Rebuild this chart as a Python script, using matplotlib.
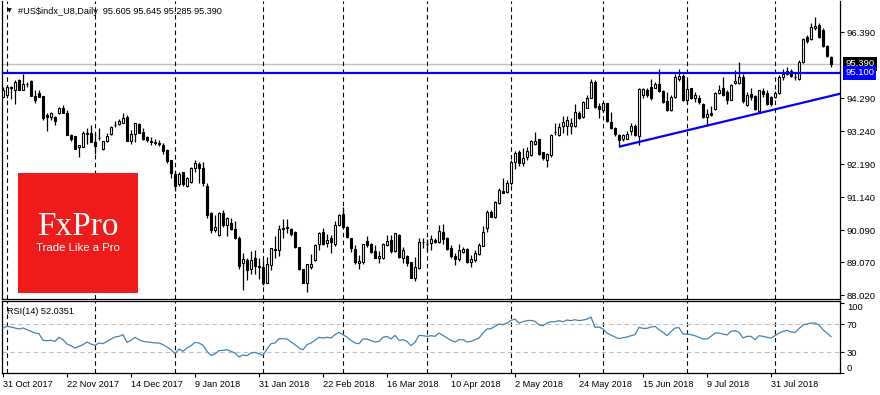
import numpy as np
import pandas as pd
import matplotlib
matplotlib.use("Agg")
import matplotlib.pyplot as plt
import matplotlib.transforms as mtransforms
from matplotlib.patches import Rectangle

plt.rcParams['font.family'] = ['Liberation Sans', 'DejaVu Sans']

# daily bars of #US$indx_U8, 31 Oct 2017 - 21 Aug 2018
holidays = ['2017-12-25', '2018-01-01', '2018-03-30']

open_ = [
    94.32, 94.41, 94.64, 94.55, 94.87, 94.57, 94.75, 94.84, 94.36, 94.47,
    94.36, 93.76, 93.68, 93.68, 93.81, 93.97, 93.83, 93.12, 93.09, 92.75,
    92.75, 93.15, 93.19, 92.91, 93.04, 92.69, 92.93, 93.14, 93.43, 93.46,
    93.51, 93.70, 92.93, 93.17, 93.47, 93.22, 93.05, 92.93, 92.86, 92.86,
    92.80, 92.64, 92.32, 91.88, 91.55, 91.94, 91.51, 91.63, 92.06, 92.20,
    92.06, 91.50, 90.65, 90.09, 89.93, 90.65, 90.27, 90.31, 90.12, 89.83,
    89.06, 89.14, 88.87, 89.19, 88.94, 88.93, 88.42, 88.98, 89.46, 89.46,
    90.15, 90.20, 90.13, 90.04, 89.56, 88.85, 88.42, 88.93, 89.14, 89.64,
    90.02, 89.67, 89.85, 89.64, 90.27, 90.62, 90.20, 89.85, 89.49, 89.06,
    89.09, 89.74, 89.64, 89.43, 89.19, 89.19, 89.62, 89.78, 89.43, 89.93,
    89.22, 89.27, 89.09, 88.58, 88.90, 89.70, 89.66, 89.69, 89.78, 89.72,
    90.04, 89.83, 89.51, 89.26, 89.17, 89.40, 89.49, 89.09, 89.14, 89.32,
    89.59, 90.15, 90.66, 90.50, 90.97, 91.34, 91.31, 91.58, 92.25, 92.59,
    92.24, 92.43, 92.48, 92.85, 92.98, 92.57, 92.34, 92.48, 93.22, 93.12,
    93.42, 93.42, 93.42, 93.42, 93.81, 93.68, 93.99, 94.31, 94.82, 94.04,
    93.92, 94.13, 93.54, 93.35, 93.12, 92.98, 93.01, 93.25, 93.41, 93.10,
    94.41, 94.55, 94.66, 94.63, 94.76, 94.52, 94.20, 93.92, 94.34, 94.92,
    95.01, 94.23, 94.61, 94.29, 94.29, 94.10, 93.68, 93.81, 93.94, 94.47,
    94.61, 94.50, 94.25, 94.79, 94.79, 94.98, 94.07, 94.42, 94.36, 93.89,
    94.53, 94.45, 94.32, 94.32, 94.45, 94.98, 95.08, 95.17, 94.97, 94.92,
    95.45, 96.25, 96.17, 96.52, 96.62, 96.48, 95.95, 95.605]

high = [
    94.66, 94.71, 94.68, 94.89, 94.92, 95.08, 94.82, 94.87, 94.57, 94.55,
    94.36, 93.81, 93.86, 93.72, 94.02, 94.08, 93.92, 93.15, 93.09, 92.82,
    93.26, 93.33, 93.44, 93.19, 93.33, 92.93, 93.19, 93.41, 93.58, 93.62,
    93.83, 93.76, 93.28, 93.51, 93.49, 93.33, 93.10, 93.07, 92.98, 92.96,
    92.86, 92.68, 92.34, 91.98, 91.95, 91.96, 91.77, 92.11, 92.34, 92.27,
    92.27, 91.61, 90.68, 90.57, 90.68, 90.75, 90.52, 90.47, 90.39, 89.90,
    89.37, 89.19, 89.44, 89.46, 89.19, 89.14, 89.24, 89.54, 89.90, 90.25,
    90.44, 90.44, 90.15, 90.06, 89.56, 88.85, 89.03, 89.32, 89.64, 90.02,
    90.15, 89.96, 89.93, 90.38, 90.62, 90.84, 90.23, 89.85, 89.62, 89.30,
    89.64, 89.91, 89.67, 89.62, 89.43, 89.67, 89.93, 89.93, 90.01, 89.96,
    89.56, 89.30, 89.09, 89.25, 89.83, 89.83, 89.80, 89.94, 89.83, 90.25,
    90.29, 89.88, 89.62, 89.35, 89.65, 89.56, 89.51, 89.30, 89.46, 89.67,
    90.22, 90.73, 90.73, 91.02, 91.44, 91.76, 91.69, 92.32, 92.62, 92.64,
    92.72, 92.75, 92.96, 93.23, 93.01, 92.59, 92.54, 93.14, 93.49, 93.49,
    93.72, 93.72, 93.65, 94.10, 93.88, 94.20, 94.41, 94.92, 94.87, 94.13,
    94.18, 94.15, 93.86, 93.38, 93.14, 93.14, 93.25, 93.49, 93.46, 94.61,
    94.63, 94.61, 94.92, 94.82, 95.22, 94.55, 94.50, 94.39, 95.08, 95.24,
    95.05, 94.87, 94.63, 94.50, 94.41, 94.13, 93.94, 94.04, 94.50, 94.71,
    94.98, 94.55, 94.74, 95.19, 95.45, 95.08, 94.50, 94.61, 94.39, 94.57,
    94.61, 94.55, 94.36, 94.53, 95.03, 95.24, 95.30, 95.21, 95.10, 95.51,
    96.20, 96.30, 96.70, 96.89, 96.68, 96.52, 95.99, 95.645]

low = [
    94.32, 94.29, 94.26, 94.10, 94.57, 94.57, 94.66, 94.37, 94.15, 94.32,
    93.60, 93.26, 93.60, 93.44, 93.79, 93.81, 93.12, 92.94, 92.69, 92.41,
    92.75, 92.85, 92.91, 92.51, 92.96, 92.66, 92.91, 93.12, 93.38, 93.44,
    93.49, 92.93, 92.85, 92.91, 93.19, 92.96, 92.90, 92.82, 92.82, 92.77,
    92.52, 92.24, 91.74, 91.35, 91.51, 91.50, 91.47, 91.58, 91.95, 91.60,
    91.51, 90.49, 90.01, 90.04, 89.90, 90.20, 89.90, 90.09, 89.80, 88.87,
    88.18, 88.50, 88.71, 88.71, 88.55, 88.34, 88.40, 88.82, 89.19, 89.27,
    89.83, 89.99, 89.91, 89.53, 88.82, 88.42, 88.11, 88.85, 89.11, 89.46,
    89.62, 89.56, 89.38, 89.60, 90.23, 90.15, 89.83, 89.40, 89.03, 88.87,
    89.03, 89.56, 89.38, 89.19, 89.06, 89.17, 89.60, 89.38, 89.40, 89.22,
    89.05, 88.95, 88.56, 88.47, 88.85, 89.53, 89.44, 89.46, 89.67, 89.67,
    89.65, 89.46, 89.19, 88.98, 89.12, 89.35, 89.05, 88.91, 89.09, 89.30,
    89.58, 90.04, 90.50, 90.49, 90.94, 91.26, 91.26, 91.53, 92.03, 92.13,
    92.13, 92.32, 92.45, 92.80, 92.48, 92.32, 92.09, 92.41, 93.12, 93.09,
    93.19, 93.12, 93.17, 93.38, 93.63, 93.65, 93.97, 94.29, 93.97, 93.67,
    93.86, 93.54, 93.31, 93.10, 92.75, 92.93, 92.99, 93.12, 93.10, 92.82,
    94.29, 94.34, 94.23, 94.61, 94.50, 94.13, 93.88, 93.88, 94.31, 94.84,
    94.20, 94.10, 94.27, 94.18, 94.10, 93.65, 93.41, 93.72, 93.92, 94.42,
    94.36, 94.11, 94.23, 94.76, 94.76, 94.13, 94.04, 94.25, 93.92, 93.86,
    94.32, 94.07, 94.04, 94.29, 94.42, 94.87, 95.03, 94.96, 94.87, 94.87,
    95.42, 96.04, 96.14, 96.48, 96.20, 95.93, 95.61, 95.285]

close = [
    94.55, 94.66, 94.63, 94.80, 94.57, 94.76, 94.74, 94.37, 94.25, 94.34,
    93.67, 93.68, 93.83, 93.58, 93.97, 93.83, 93.12, 92.99, 92.69, 92.82,
    93.19, 93.19, 92.91, 92.77, 93.03, 92.93, 93.09, 93.38, 93.44, 93.57,
    93.65, 92.93, 93.15, 93.49, 93.19, 92.99, 92.96, 92.90, 92.91, 92.85,
    92.62, 92.30, 91.92, 91.51, 91.88, 91.55, 91.74, 92.06, 92.22, 92.06,
    91.60, 90.59, 90.09, 90.18, 90.65, 90.25, 90.47, 90.12, 89.83, 88.95,
    89.16, 88.82, 89.14, 88.95, 88.93, 88.42, 89.00, 89.54, 89.49, 90.12,
    90.12, 90.15, 89.96, 89.56, 88.85, 88.42, 89.00, 89.03, 89.62, 89.99,
    89.64, 89.78, 89.72, 90.27, 90.57, 90.18, 89.88, 89.53, 89.09, 89.11,
    89.64, 89.62, 89.40, 89.21, 89.27, 89.64, 89.74, 89.43, 89.99, 89.25,
    89.46, 89.06, 88.58, 88.93, 89.70, 89.71, 89.65, 89.80, 89.72, 90.07,
    89.80, 89.48, 89.26, 89.17, 89.46, 89.48, 89.09, 89.17, 89.35, 89.62,
    90.02, 90.66, 90.52, 90.99, 91.37, 91.29, 91.61, 92.25, 92.54, 92.24,
    92.38, 92.61, 92.93, 92.93, 92.51, 92.40, 92.51, 93.12, 93.23, 93.39,
    93.54, 93.60, 93.49, 93.86, 93.67, 94.16, 94.31, 94.80, 94.00, 93.94,
    94.15, 93.57, 93.35, 93.14, 92.96, 93.12, 93.15, 93.41, 93.12, 94.58,
    94.58, 94.39, 94.29, 94.76, 94.52, 94.18, 93.92, 94.34, 94.98, 95.01,
    94.23, 94.58, 94.31, 94.41, 94.16, 93.70, 93.78, 93.75, 94.45, 94.55,
    94.39, 94.23, 94.71, 94.84, 94.96, 94.21, 94.39, 94.34, 93.94, 94.55,
    94.42, 94.11, 94.11, 94.45, 94.98, 95.08, 95.17, 95.00, 94.96, 95.45,
    96.17, 96.12, 96.55, 96.59, 96.23, 95.95, 95.63, 95.39]

rsi = [
    64.3, 66.7, 65.7, 64.3, 62.9, 64.3, 61.9, 59.5, 57.1, 56.2,
    46.7, 46.2, 46.7, 45.2, 51.0, 47.6, 41.4, 39.0, 35.7, 38.1,
    40.5, 44.3, 41.4, 39.5, 42.9, 41.9, 45.2, 48.6, 51.4, 52.4,
    54.8, 43.8, 46.7, 51.0, 47.6, 45.2, 44.3, 43.8, 42.9, 42.9,
    40.5, 37.1, 33.3, 27.6, 34.3, 31.0, 35.7, 39.0, 43.8, 42.9,
    39.5, 31.0, 25.2, 27.1, 31.9, 32.4, 33.3, 31.0, 28.6, 22.9,
    25.7, 24.8, 28.6, 29.5, 27.6, 25.2, 34.3, 41.9, 42.9, 49.0,
    49.0, 48.6, 44.3, 40.5, 35.7, 33.3, 40.5, 42.9, 46.7, 51.0,
    50.0, 51.0, 50.0, 54.8, 58.1, 54.8, 51.4, 46.7, 42.9, 41.9,
    48.6, 48.6, 46.2, 44.3, 45.2, 51.0, 52.4, 48.6, 53.8, 46.7,
    47.6, 45.2, 39.0, 43.8, 53.8, 53.3, 52.4, 53.3, 52.4, 57.1,
    53.8, 50.0, 46.7, 44.3, 47.6, 47.6, 44.3, 45.2, 47.6, 50.0,
    57.1, 62.9, 63.3, 66.7, 70.0, 69.0, 71.4, 75.2, 77.1, 71.4,
    73.3, 74.8, 75.2, 73.8, 68.6, 67.6, 71.4, 73.3, 73.3, 74.8,
    73.3, 75.7, 74.8, 76.2, 74.8, 75.7, 77.1, 80.0, 65.2, 65.7,
    62.9, 57.1, 54.3, 51.4, 49.0, 50.5, 51.4, 53.3, 54.8, 65.2,
    63.8, 63.8, 65.7, 66.7, 61.9, 58.1, 53.3, 59.0, 64.3, 64.8,
    55.7, 55.7, 54.8, 53.3, 51.0, 48.6, 48.6, 52.4, 57.1, 57.1,
    55.7, 54.3, 59.5, 60.5, 58.1, 50.0, 52.4, 52.4, 47.6, 53.3,
    52.4, 51.0, 50.0, 53.3, 57.1, 59.5, 61.0, 58.6, 58.1, 63.3,
    68.6, 70.0, 71.4, 71.4, 68.6, 61.9, 57.1, 52.0]

resistance = 95.10
last_price = 95.39
trend_x = [154, 193]
trend_y = [92.75, 93.94]
price_ticks = [96.39, 94.29, 93.24, 92.19, 91.14, 90.09, 89.07, 88.02]
rsi_ticks = [100, 70, 30, 0]
title = '#US$indx_U8,Daily  95.605 95.645 95.285 95.390'
rsi_title = 'RSI(14) 52.0351'

dates = pd.bdate_range('2017-10-31', '2018-08-21')
dates = dates[~dates.isin(pd.to_datetime(holidays))]

W, H = 880, 395
fig = plt.figure(figsize=(W / 100, H / 100), dpi=100)


def px_axes(x0, y0, x1, y1):
    return fig.add_axes([x0 / W, 1 - y1 / H, (x1 - x0) / W, (y1 - y0) / H])


ax = px_axes(2, 1, 840, 299)
ax_rsi = px_axes(2, 301, 840, 373)

x = np.arange(len(close))
o = np.array(open_)
c = np.array(close)
up = c >= o
bottom = np.minimum(o, c)
height = np.abs(c - o)

# candles
ax.vlines(x, low, high, color='black', lw=0.9, zorder=2)
ax.bar(x[up], height[up], bottom=bottom[up], width=0.55, facecolor='white',
       edgecolor='black', lw=0.8, zorder=3)
ax.bar(x[~up], height[~up], bottom=bottom[~up], width=0.55, facecolor='black',
       edgecolor='black', lw=0.8, zorder=3)

# levels
ax.axhline(last_price, color='#c0c0c0', lw=1, zorder=1)
ax.axhline(resistance, color='#0000ff', lw=1.6, zorder=4)
slope = (trend_y[1] - trend_y[0]) / (trend_x[1] - trend_x[0])
x_end = 215
ax.plot([trend_x[0], x_end], [trend_y[0], trend_y[0] + slope * (x_end - trend_x[0])],
        color='#0000ff', lw=1.6, zorder=4, solid_capstyle='butt')

# month separators
month_starts = [i for i in range(1, len(dates)) if dates[i].month != dates[i - 1].month]
for a in (ax, ax_rsi):
    for m in month_starts:
        a.axvline(m, color='black', lw=0.8, ls=(0, (4, 3)), zorder=1)

ax.set_xlim(-0.25, 209.25)
ax.set_ylim(87.90, 97.39)
ax.set_xticks([])
ax.yaxis.tick_right()
ax.set_yticks(price_ticks)
ax.set_yticklabels([f'{v:.3f}' for v in price_ticks], fontsize=6.8)
ax.tick_params(axis='y', direction='out', length=3, width=0.8, pad=2)
ax.spines['top'].set_visible(False)
for s in ('left', 'right', 'bottom'):
    ax.spines[s].set_linewidth(0.9)

trans = mtransforms.blended_transform_factory(ax.transAxes, ax.transData)
ax.text(1.006, last_price, f'{last_price:.3f}', transform=trans, color='white',
        fontsize=6.8, va='center', ha='left', clip_on=False, zorder=6,
        bbox=dict(boxstyle='square,pad=0.25', fc='black', ec='none'))
ax.text(1.006, resistance, f'{resistance:.3f}', transform=trans, color='white',
        fontsize=6.8, va='center', ha='left', clip_on=False, zorder=7,
        bbox=dict(boxstyle='square,pad=0.25', fc='#0000ff', ec='none'))

# RSI panel
ax_rsi.plot(x, rsi, color='#4682b4', lw=0.9, zorder=3)
ax_rsi.axhline(70, color='#c0c0c0', lw=0.8, ls=(0, (4, 3)), zorder=1)
ax_rsi.axhline(30, color='#c0c0c0', lw=0.8, ls=(0, (4, 3)), zorder=1)
ax_rsi.set_xlim(-0.25, 209.25)
ax_rsi.set_ylim(0, 102.9)
ax_rsi.yaxis.tick_right()
ax_rsi.set_yticks(rsi_ticks)
ax_rsi.set_yticklabels([str(v) for v in rsi_ticks], fontsize=6.8)
labels = ax_rsi.get_yticklabels()
labels[0].set_va('top')
labels[-1].set_va('bottom')
ax_rsi.tick_params(axis='y', direction='out', length=3, width=0.8, pad=2)
tick_pos = list(range(0, len(dates), 16))
ax_rsi.set_xticks(tick_pos)
ax_rsi.set_xticklabels([f'{dates[i].day} {dates[i]:%b %Y}' for i in tick_pos],
                       fontsize=6.6, ha='left')
ax_rsi.tick_params(axis='x', direction='out', length=3, width=0.8, pad=2)
for s in ax_rsi.spines.values():
    s.set_linewidth(0.9)

# texts
fig.text(7 / W, 1 - 11 / H, '\u25bc', fontsize=4.5, family='DejaVu Sans', va='center')
fig.text(18 / W, 1 - 11 / H, title, fontsize=6.6, va='center', parse_math=False)
fig.text(7 / W, 1 - 311 / H, rsi_title, fontsize=6.6, va='center')

# logo
fig.add_artist(Rectangle((18 / W, 1 - 293 / H), 120 / W, 120 / H, transform=fig.transFigure,
                         facecolor='#ef1a1a', edgecolor='none', zorder=5))
fig.text(78 / W, 1 - 235.5 / H, 'FxPro', family='Liberation Serif', fontsize=24,
         color='white', ha='center', va='baseline', zorder=6)
fig.text(78 / W, 1 - 251.5 / H, 'Trade Like a Pro', fontsize=8.2, color='white',
         ha='center', va='baseline', zorder=6)

fig.savefig('out.png', dpi=100)
